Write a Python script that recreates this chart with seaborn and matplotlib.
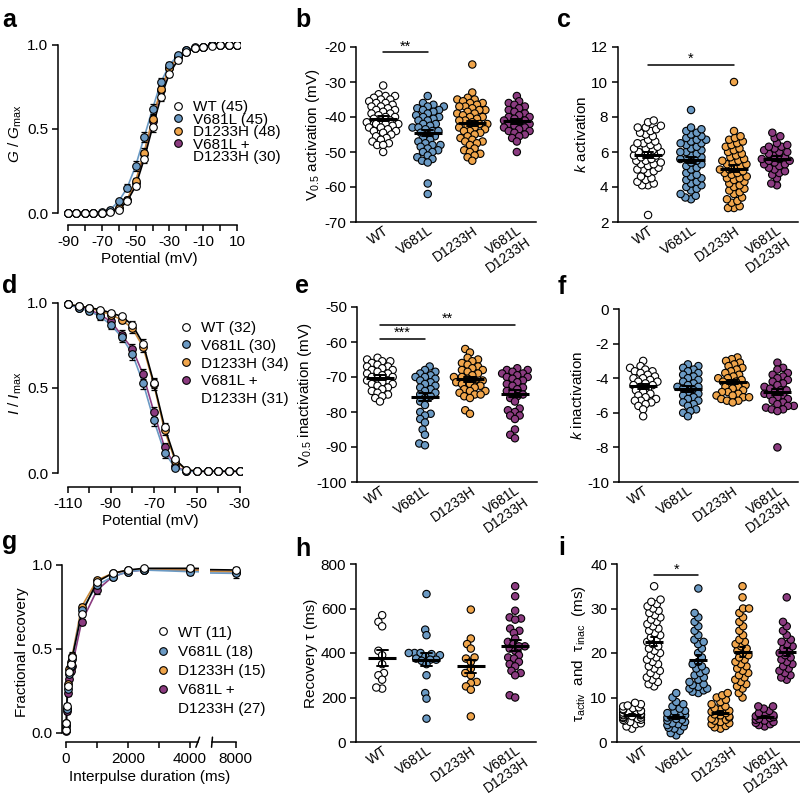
import numpy as np
import pandas as pd
import matplotlib
matplotlib.use('Agg')
import matplotlib.pyplot as plt
from matplotlib.lines import Line2D
import seaborn as sns

# ---- groups / colours ----
groups = ['WT', 'V681L', 'D1233H', 'V681L+D1233H']
tick_labels = ['WT', 'V681L', 'D1233H', 'V681L\nD1233H']
fill = {'WT': 'white', 'V681L': '#6b9ac4', 'D1233H': '#f0a54b', 'V681L+D1233H': '#8b3b80'}
fit_color = {'WT': 'black', 'V681L': '#6b9ac4', 'D1233H': '#c98a3a', 'V681L+D1233H': '#8b3b80'}

# ---- a: activation curves ----
act_voltage = list(range(-90, 15, 5))
act_gv = {
    'WT':           [0, 0, 0, 0, 0.002, 0.005, 0.02, 0.07, 0.16, 0.32, 0.51, 0.69, 0.83, 0.91, 0.96, 0.98, 0.99, 0.995, 1.0, 1.0, 1.0],
    'V681L':        [0, 0, 0, 0, 0.005, 0.02, 0.07, 0.15, 0.28, 0.45, 0.62, 0.78, 0.88, 0.94, 0.97, 0.985, 0.99, 1.0, 1.0, 1.0, 1.0],
    'D1233H':       [0, 0, 0, 0, 0.002, 0.01, 0.03, 0.08, 0.19, 0.36, 0.56, 0.74, 0.86, 0.93, 0.97, 0.98, 0.99, 1.0, 1.0, 1.0, 1.0],
    'V681L+D1233H': [0, 0, 0, 0, 0.002, 0.01, 0.03, 0.08, 0.18, 0.35, 0.55, 0.73, 0.86, 0.93, 0.96, 0.98, 0.99, 1.0, 1.0, 1.0, 1.0],
}
act_sem = {
    'WT':           [0, 0, 0, 0, 0, 0.003, 0.005, 0.01, 0.015, 0.02, 0.025, 0.025, 0.02, 0.015, 0.01, 0.005, 0, 0, 0, 0, 0],
    'V681L':        [0, 0, 0, 0, 0, 0.005, 0.01, 0.02, 0.03, 0.03, 0.03, 0.025, 0.02, 0.015, 0.01, 0.005, 0, 0, 0, 0, 0],
    'D1233H':       [0, 0, 0, 0, 0, 0.004, 0.008, 0.015, 0.02, 0.025, 0.025, 0.02, 0.02, 0.01, 0.01, 0.005, 0, 0, 0, 0, 0],
    'V681L+D1233H': [0, 0, 0, 0, 0, 0.004, 0.008, 0.015, 0.02, 0.025, 0.025, 0.02, 0.02, 0.01, 0.01, 0.005, 0, 0, 0, 0, 0],
}
act_n = {'WT': 45, 'V681L': 45, 'D1233H': 48, 'V681L+D1233H': 30}

# ---- d: steady-state inactivation ----
inact_voltage = list(range(-110, -25, 5))
inact_ii = {
    'WT':           [0.99, 0.98, 0.97, 0.96, 0.94, 0.92, 0.87, 0.76, 0.53, 0.27, 0.08, 0.02, 0.01, 0.01, 0.01, 0.01, 0.01],
    'V681L':        [0.99, 0.97, 0.95, 0.92, 0.87, 0.80, 0.70, 0.53, 0.31, 0.12, 0.03, 0.01, 0.01, 0.01, 0.01, 0.01, 0.01],
    'D1233H':       [0.99, 0.98, 0.97, 0.95, 0.93, 0.90, 0.85, 0.74, 0.52, 0.25, 0.07, 0.02, 0.01, 0.01, 0.01, 0.01, 0.01],
    'V681L+D1233H': [0.99, 0.97, 0.96, 0.93, 0.89, 0.81, 0.73, 0.58, 0.36, 0.15, 0.04, 0.01, 0.01, 0.01, 0.01, 0.01, 0.01],
}
inact_sem = {
    'WT':           [0.005, 0.01, 0.01, 0.01, 0.01, 0.015, 0.02, 0.025, 0.03, 0.025, 0.015, 0.005, 0, 0, 0, 0, 0],
    'V681L':        [0.005, 0.01, 0.015, 0.02, 0.025, 0.03, 0.035, 0.035, 0.035, 0.03, 0.015, 0.005, 0, 0, 0, 0, 0],
    'D1233H':       [0.005, 0.01, 0.01, 0.015, 0.02, 0.02, 0.025, 0.03, 0.03, 0.025, 0.015, 0.005, 0, 0, 0, 0, 0],
    'V681L+D1233H': [0.005, 0.01, 0.015, 0.02, 0.025, 0.03, 0.03, 0.03, 0.03, 0.025, 0.015, 0.005, 0, 0, 0, 0, 0],
}
inact_n = {'WT': 32, 'V681L': 30, 'D1233H': 34, 'V681L+D1233H': 31}

# ---- g: recovery from inactivation ----
interpulse = [2, 10, 25, 50, 100, 150, 200, 500, 1000, 1500, 2000, 2500, 4000, 8000]
recovery = {
    'WT':           [0.02, 0.06, 0.16, 0.28, 0.36, 0.41, 0.45, 0.71, 0.90, 0.95, 0.97, 0.98, 0.98, 0.97],
    'V681L':        [0.02, 0.05, 0.14, 0.26, 0.35, 0.40, 0.44, 0.73, 0.88, 0.93, 0.96, 0.97, 0.96, 0.95],
    'D1233H':       [0.02, 0.06, 0.15, 0.29, 0.38, 0.42, 0.46, 0.75, 0.91, 0.95, 0.97, 0.97, 0.97, 0.96],
    'V681L+D1233H': [0.01, 0.04, 0.13, 0.24, 0.32, 0.37, 0.40, 0.66, 0.85, 0.93, 0.96, 0.97, 0.97, 0.96],
}
recovery_sem = {
    'WT':           [0.01, 0.01, 0.02, 0.02, 0.02, 0.02, 0.02, 0.02, 0.01, 0.01, 0.01, 0.01, 0.02, 0.02],
    'V681L':        [0.01, 0.01, 0.02, 0.02, 0.02, 0.02, 0.03, 0.02, 0.02, 0.01, 0.01, 0.01, 0.02, 0.03],
    'D1233H':       [0.01, 0.01, 0.02, 0.02, 0.02, 0.02, 0.02, 0.02, 0.01, 0.01, 0.01, 0.01, 0.01, 0.02],
    'V681L+D1233H': [0.01, 0.01, 0.02, 0.02, 0.02, 0.02, 0.02, 0.02, 0.02, 0.01, 0.01, 0.01, 0.01, 0.02],
}
recovery_n = {'WT': 11, 'V681L': 18, 'D1233H': 15, 'V681L+D1233H': 27}

# ---- b: V0.5 activation ----
v_act = {
    'WT': [-31, -33.5, -34, -34, -34.5, -35, -35, -35.5, -36, -36, -36.5, -37, -37, -37.5, -38, -38, -38.5, -39, -39,
           -39.5, -40, -40, -40.5, -41, -41, -41.5, -42, -42, -42, -42.5, -43, -43, -43.5, -44, -44, -44.5, -45, -45.5,
           -46, -46.5, -47, -47.5, -48, -48, -50],
    'V681L': [-34, -36, -36.5, -37, -37, -37.5, -38, -38, -38.5, -39, -39.5, -40, -40, -40.5, -41, -41, -42, -42, -42.5,
              -43, -43, -43.5, -44, -44, -44.5, -45, -45.5, -46, -46.5, -47, -47.5, -48, -48, -48.5, -49, -49.5, -50,
              -50, -51, -51.5, -52, -52.5, -53, -59, -62],
    'D1233H': [-25, -33, -34.5, -35, -35, -35.5, -36, -36, -36.5, -37, -37, -37.5, -38, -38, -38.5, -39, -39, -39.5, -40,
               -40, -40.5, -41, -41, -41.5, -42, -42, -42.5, -43, -43, -43.5, -44, -44, -44.5, -45, -45.5, -46, -46.5,
               -47, -47, -47.5, -48, -49, -49.5, -50, -50.5, -51, -51.5, -52.5],
    'V681L+D1233H': [-34, -35.5, -36, -36.5, -37, -37.5, -38, -38.5, -39, -39.5, -40, -40, -40.5, -41, -41, -41.5, -42,
                     -42, -42.5, -43, -43, -43.5, -44, -44, -44.5, -45, -45.5, -46, -47, -50],
}

# ---- c: k activation ----
k_act = {
    'WT': [2.4, 4.1, 4.1, 4.2, 4.3, 4.4, 4.5, 4.6, 4.8, 4.9, 5.0, 5.0, 5.1, 5.2, 5.3, 5.3, 5.4, 5.5, 5.5, 5.6, 5.7, 5.8,
           5.8, 5.9, 6.0, 6.0, 6.1, 6.2, 6.2, 6.3, 6.4, 6.5, 6.5, 6.6, 6.7, 6.9, 7.0, 7.1, 7.2, 7.3, 7.4, 7.4, 7.5, 7.7, 7.8],
    'V681L': [3.3, 3.4, 3.5, 3.6, 3.8, 3.9, 4.0, 4.1, 4.2, 4.3, 4.4, 4.5, 4.6, 4.7, 4.8, 5.0, 5.1, 5.2, 5.3, 5.4, 5.5,
              5.6, 5.6, 5.7, 5.8, 5.9, 6.0, 6.0, 6.1, 6.2, 6.3, 6.4, 6.5, 6.5, 6.6, 6.7, 6.7, 6.8, 6.9, 7.0, 7.1, 7.2,
              7.3, 7.4, 8.4],
    'D1233H': [2.8, 2.8, 2.9, 3.1, 3.2, 3.3, 3.4, 3.6, 3.7, 3.8, 3.9, 4.0, 4.1, 4.2, 4.3, 4.4, 4.5, 4.5, 4.6, 4.7, 4.8,
               4.8, 4.9, 5.0, 5.0, 5.1, 5.2, 5.3, 5.3, 5.4, 5.5, 5.5, 5.6, 5.7, 5.8, 5.9, 6.0, 6.1, 6.2, 6.3, 6.4, 6.5,
               6.6, 6.7, 6.8, 6.9, 7.2, 10.0],
    'V681L+D1233H': [4.1, 4.2, 4.5, 4.7, 4.8, 4.9, 5.0, 5.1, 5.2, 5.3, 5.3, 5.4, 5.5, 5.5, 5.6, 5.6, 5.7, 5.8, 5.9, 6.0,
                     6.0, 6.1, 6.2, 6.3, 6.3, 6.4, 6.5, 6.8, 6.9, 7.1],
}

# ---- e: V0.5 inactivation ----
v_inact = {
    'WT': [-64.5, -65, -65.5, -65.5, -66, -66.5, -67, -67, -67.5, -68, -68, -68.5, -69, -69, -69.5, -70, -70, -70.5,
           -71, -71, -71.5, -72, -72, -72.5, -73, -73.5, -74, -74.5, -75, -75.5, -76, -77],
    'V681L': [-67, -68, -68.5, -69, -69.5, -70, -70, -70.5, -71, -71.5, -72, -72.5, -73, -73.5, -74, -74.5, -75, -75.5,
              -76, -77, -78, -80, -80.5, -81, -82, -83, -85, -86.5, -89, -89.5],
    'D1233H': [-62, -63, -64.5, -65, -65.5, -66, -66.5, -67, -67.5, -68, -68, -68.5, -69, -69.5, -70, -70, -70.5, -71,
               -71, -71.5, -72, -72, -72.5, -73, -73.5, -74, -74, -74.5, -75, -75, -75.5, -76, -79.5, -80.5],
    'V681L+D1233H': [-67.5, -68, -68, -68.5, -69, -69, -69.5, -70, -70, -70.5, -71, -71.5, -72, -72.5, -73, -73.5, -74,
                     -74.5, -75, -75.5, -76, -77, -79, -79.5, -80, -81, -81, -82, -85, -86.5, -87.5],
}

# ---- f: k inactivation ----
k_inact = {
    'WT': [-3.0, -3.3, -3.4, -3.5, -3.6, -3.6, -3.7, -3.8, -3.9, -4.0, -4.0, -4.1, -4.2, -4.2, -4.3, -4.4, -4.4, -4.5,
           -4.6, -4.7, -4.8, -4.9, -5.0, -5.1, -5.2, -5.3, -5.3, -5.4, -5.5, -5.6, -5.8, -6.2],
    'V681L': [-3.2, -3.3, -3.4, -3.5, -3.6, -3.7, -3.8, -3.9, -4.0, -4.1, -4.2, -4.3, -4.4, -4.5, -4.5, -4.6, -4.7,
              -4.8, -4.9, -5.0, -5.1, -5.2, -5.3, -5.4, -5.5, -5.6, -5.8, -5.9, -6.0, -6.2],
    'D1233H': [-2.8, -2.9, -3.0, -3.1, -3.2, -3.3, -3.4, -3.5, -3.6, -3.7, -3.8, -3.9, -4.0, -4.0, -4.1, -4.2, -4.2,
               -4.3, -4.4, -4.5, -4.5, -4.6, -4.7, -4.8, -4.8, -4.9, -5.0, -5.0, -5.1, -5.1, -5.2, -5.3, -5.3, -5.4],
    'V681L+D1233H': [-3.1, -3.4, -3.5, -3.7, -3.8, -3.9, -4.0, -4.1, -4.2, -4.3, -4.4, -4.5, -4.6, -4.7, -4.7, -4.8,
                     -4.9, -5.0, -5.0, -5.1, -5.2, -5.3, -5.4, -5.5, -5.6, -5.6, -5.7, -5.8, -5.8, -5.9, -8.0],
}

# ---- h: recovery tau ----
rec_tau = {
    'WT': [570, 540, 520, 410, 390, 350, 310, 300, 280, 240, 245],
    'V681L': [665, 505, 480, 400, 400, 395, 390, 385, 375, 370, 370, 365, 350, 300, 220, 195, 105, 400],
    'D1233H': [595, 465, 440, 420, 375, 360, 330, 310, 300, 270, 265, 250, 235, 115, 380],
    'V681L+D1233H': [700, 655, 590, 560, 555, 550, 510, 500, 490, 465, 450, 440, 430, 420, 410, 390, 380, 375, 360,
                     350, 340, 320, 310, 300, 210, 200, 430],
}

# ---- i: tau activation / tau inactivation ----
tau_activ = {
    'WT': [3.0, 3.5, 4.0, 4.2, 4.5, 4.8, 5.0, 5.0, 5.2, 5.4, 5.5, 5.6, 5.8, 6.0, 6.0, 6.1, 6.2, 6.3, 6.5, 6.6, 6.8, 7.0,
           7.0, 7.2, 7.4, 7.6, 7.8, 8.0, 8.2, 8.5, 8.8],
    'V681L': [1.5, 2.0, 2.5, 3.0, 3.2, 3.5, 3.8, 4.0, 4.2, 4.5, 4.8, 5.0, 5.2, 5.5, 5.8, 6.0, 6.2, 6.5, 6.8, 7.0, 7.5,
              8.0, 8.5, 9.0, 10.0, 11.0],
    'D1233H': [3.0, 3.3, 3.6, 4.0, 4.2, 4.5, 4.8, 5.0, 5.2, 5.5, 5.7, 6.0, 6.2, 6.5, 6.8, 7.0, 7.3, 7.6, 8.0, 8.5, 9.0,
               9.5, 10.0, 10.5, 11.0],
    'V681L+D1233H': [3.5, 3.8, 4.0, 4.3, 4.5, 4.8, 5.0, 5.2, 5.4, 5.6, 5.8, 6.0, 6.2, 6.5, 7.0, 7.5, 8.0, 8.0],
}
tau_inac = {
    'WT': [12.5, 13, 13.5, 14, 14.5, 15, 15.5, 16, 16.5, 17, 17.5, 18, 18.5, 19, 19.5, 20, 20.5, 21, 21.5, 22, 22.5,
           23, 23.5, 24, 24.5, 25, 25.5, 26, 26.5, 27, 27.5, 28, 28.5, 29, 29.5, 30, 30.5, 31, 31.5, 32, 35],
    'V681L': [11, 11.3, 11.6, 12, 12, 12.4, 12.8, 13, 13.5, 14, 14.5, 15, 15.5, 16, 16.5, 17, 17.5, 18, 19, 20, 21, 22,
              22.5, 23, 24, 25, 26, 27, 28, 29, 34.5],
    'D1233H': [10, 11, 12, 12.5, 13, 13.5, 14, 14.5, 15, 15.5, 16, 16.5, 17, 17.5, 18, 18.5, 19, 19.5, 20, 20.5, 21,
               21.5, 22, 22.5, 23, 24, 25, 26, 27, 28, 29, 30, 30, 32.5, 35],
    'V681L+D1233H': [14, 14.5, 15, 15.5, 16, 16.5, 17, 17.5, 18, 18.5, 19, 19.5, 20, 20.5, 21, 21.5, 22, 22.5, 23, 24,
                     25, 26, 27, 32.5],
}

# ---- style ----
sns.set_theme(style='ticks')
plt.rcParams.update({
    'font.family': ['Liberation Sans', 'DejaVu Sans'],
    'mathtext.fontset': 'custom',
    'mathtext.rm': 'Liberation Sans',
    'mathtext.it': 'Liberation Sans:italic',
    'axes.unicode_minus': False,
    'axes.linewidth': 1.1,
    'axes.edgecolor': 'black',
    'axes.labelcolor': 'black',
    'text.color': 'black',
    'xtick.color': 'black',
    'ytick.color': 'black',
    'xtick.major.width': 1.1,
    'ytick.major.width': 1.1,
    'xtick.minor.width': 1.1,
    'xtick.major.size': 4,
    'ytick.major.size': 4,
    'xtick.minor.size': 4,
    'xtick.major.pad': 3,
    'ytick.major.pad': 3,
    'xtick.labelsize': 11,
    'ytick.labelsize': 11,
    'axes.labelsize': 11,
    'axes.labelpad': 2,
})

fig = plt.figure(figsize=(8, 7.94), dpi=100)
swarm_layers = []  # swarms are laid out with a small marker, drawn with a bigger one


def add_ax(left, top, right, bottom):
    # pixel box -> figure fraction
    return fig.add_axes([left / 800, 1 - bottom / 794, (right - left) / 800, (bottom - top) / 794])


def curve_panel(ax, x, series, sems):
    order = list(reversed(groups))
    for g in order:
        sns.lineplot(x=x, y=series[g], color=fit_color[g], lw=1.2, ax=ax, zorder=2)
    for g in order:
        ax.errorbar(x, series[g], yerr=sems[g], fmt='none', ecolor='black', elinewidth=0.9,
                    capsize=2.5, capthick=0.9, zorder=3)
        sns.scatterplot(x=x, y=series[g], color=fill[g], edgecolor='black', linewidth=0.8,
                        s=30, ax=ax, zorder=4, legend=False)
    ax.set_yticks([0, 0.5, 1.0], ['0.0', '0.5', '1.0'])
    ax.spines['left'].set_bounds(0, 1)
    sns.despine(ax=ax)


def curve_legend(ax, n, anchor, spacing):
    handles = [Line2D([], [], marker='o', linestyle='none', markerfacecolor=fill[g], markeredgecolor='black',
                      markersize=5.5, markeredgewidth=0.8) for g in groups]
    handles.append(Line2D([], [], linestyle='none'))
    labels = [f'WT ({n["WT"]})', f'V681L ({n["V681L"]})', f'D1233H ({n["D1233H"]})', 'V681L +',
              f'D1233H ({n["V681L+D1233H"]})']
    ax.legend(handles, labels, loc='upper left', bbox_to_anchor=anchor, frameon=False, fontsize=11,
              handlelength=0.8, handletextpad=0.6, labelspacing=spacing, borderpad=0, borderaxespad=0)


def scatter_panel(ax, data, cats, palette, xticks, ylabel, ylim, yticks, xlim, mean_size):
    df = pd.DataFrame([(c, v) for c in cats for v in data[c]], columns=['group', 'value'])
    n0 = len(ax.collections)
    sns.swarmplot(data=df, x='group', y='value', hue='group', order=cats, hue_order=cats, palette=palette,
                  size=3.3, edgecolor='black', linewidth=0.8, legend=False, ax=ax, warn_thresh=1)
    swarm_layers.extend(ax.collections[n0:])
    n_lines = len(ax.lines)
    sns.pointplot(data=df, x='group', y='value', order=cats, errorbar='se', color='black', linestyle='none',
                  marker='_', markersize=mean_size, markeredgewidth=2.2, capsize=0.25,
                  err_kws={'linewidth': 1.4}, ax=ax)
    for ln in ax.lines[n_lines:]:
        ln.set_zorder(5)
    ax.set_xlim(*xlim)
    ax.set_ylim(*ylim)
    ax.set_yticks(yticks)
    ax.set_xticks(xticks, tick_labels, rotation=35, ha='right', rotation_mode='anchor',
                  fontsize=10, linespacing=1.0)
    ax.tick_params(axis='x', length=0, pad=1)
    ax.set_xlabel('')
    ax.set_ylabel(ylabel)
    sns.despine(ax=ax)


def sig(ax, x1, x2, y, text):
    ax.plot([x1, x2], [y, y], color='black', lw=1.1)
    ax.annotate(text, xy=((x1 + x2) / 2, y), xytext=(0, -1), textcoords='offset points',
                ha='center', va='bottom', fontsize=10.5)


# ---- a ----
ax_a = add_ax(57.9, 41.6, 240.4, 225.1)
curve_panel(ax_a, act_voltage, act_gv, act_sem)
ax_a.set_xlim(-96, 12)
ax_a.set_ylim(-0.072, 1.02)
ax_a.set_xticks([-90, -70, -50, -30, -10, 10])
ax_a.set_xticks(range(-80, 10, 20), minor=True)
ax_a.spines['bottom'].set_bounds(-90, 10)
ax_a.set_xlabel('Potential (mV)')
ax_a.set_ylabel(r'$G\ /\ G_{\rm max}$')
curve_legend(ax_a, act_n, (0.625, 0.68), -0.1)

# ---- d ----
ax_d = add_ax(57.9, 299.3, 242, 487)
curve_panel(ax_d, inact_voltage, inact_ii, inact_sem)
ax_d.set_xlim(-114.6, -29)
ax_d.set_ylim(-0.082, 1.02)
ax_d.set_xticks([-110, -90, -70, -50, -30])
ax_d.set_xticks([-100, -80, -60, -40], minor=True)
ax_d.spines['bottom'].set_bounds(-110, -30)
ax_d.set_xlabel('Potential (mV)')
ax_d.set_ylabel(r'$I\ /\ I_{\rm max}$')
curve_legend(ax_d, inact_n, (0.66, 0.885), 0.25)

# ---- g (broken x axis) ----
ax_g = add_ax(62.3, 561.6, 199.3, 742.2)
ax_g2 = add_ax(210, 561.6, 240, 742.2)
ax_g2.patch.set_visible(False)
for axg in (ax_g, ax_g2):
    curve_panel(axg, interpulse, recovery, recovery_sem)
    axg.set_ylim(-0.055, 1.02)
ax_g.set_xlim(-120, 4300)
ax_g.set_xticks([0, 2000, 4000])
ax_g.set_xticks([1000, 3000], minor=True)
ax_g.spines['bottom'].set_bounds(0, 4250)
ax_g2.set_xlim(7150, 8150)
ax_g2.set_xticks([8000])
ax_g2.spines['bottom'].set_bounds(7217, 8000)
ax_g2.spines['left'].set_visible(False)
ax_g2.tick_params(axis='y', left=False, labelleft=False)
for axg, xb in ((ax_g, 4250), (ax_g2, 7217)):
    dx = 60 if axg is ax_g else 15
    axg.plot([xb - dx, xb + dx], [-0.085, -0.025], color='black', lw=1.1, clip_on=False,
             transform=axg.transData)
ax_g.set_xlabel('Interpulse duration (ms)')
ax_g.xaxis.set_label_coords(0.64, -0.155)
ax_g.set_ylabel('Fractional recovery')
curve_legend(ax_g, recovery_n, (0.69, 0.645), 0.34)

# ---- b, c, e, f, h ----
cat_ticks = [0, 1, 2, 3]
ax_b = add_ax(356, 47, 536, 222)
scatter_panel(ax_b, v_act, groups, fill, cat_ticks, r'V$_{0.5}$ activation (mV)', (-70, -20),
              range(-70, -19, 10), (-0.61, 3.43), 20)
sig(ax_b, 0, 1, -21.5, '**')

ax_c = add_ax(618, 47, 798, 222)
scatter_panel(ax_c, k_act, groups, fill, cat_ticks, r'$k$ activation', (2, 12), range(2, 13, 2),
              (-0.7, 3.49), 20)
sig(ax_c, 0, 2, 11, '*')

ax_e = add_ax(357, 307, 537, 482)
scatter_panel(ax_e, v_inact, groups, fill, cat_ticks, r'V$_{0.5}$ inactivation (mV)', (-100, -50),
              range(-100, -49, 10), (-0.51, 3.49), 20)
sig(ax_e, 0, 1, -59, '***')
sig(ax_e, 0, 3, -55, '**')

ax_f = add_ax(619, 309, 798, 482)
scatter_panel(ax_f, k_inact, groups, fill, cat_ticks, r'$k$ inactivation', (-10, 0), range(-10, 1, 2),
              (-0.54, 3.46), 20)

ax_h = add_ax(356, 564, 536, 742)
scatter_panel(ax_h, rec_tau, groups, fill, cat_ticks, 'Recovery τ (ms)', (0, 800), range(0, 801, 200),
              (-0.59, 3.47), 20)

# ---- i ----
tau_cats = []
tau_data = {}
tau_palette = {}
for g in groups:
    for kind, src in (('activ', tau_activ), ('inac', tau_inac)):
        key = f'{g} {kind}'
        tau_cats.append(key)
        tau_data[key] = src[g]
        tau_palette[key] = fill[g]
ax_i = add_ax(617, 564, 800, 742)
scatter_panel(ax_i, tau_data, tau_cats, tau_palette, [0.5, 2.5, 4.5, 6.5],
              r'τ$_{\rm activ}$  and  τ$_{\rm inac}$  (ms)', (0, 40), range(0, 41, 10), (-0.68, 7.6), 13)
sig(ax_i, 1, 3, 37.5, '*')

# ---- panel letters ----
letters = [('a', 2, 27), ('b', 295, 27), ('c', 557, 27),
           ('d', 2, 293), ('e', 295, 293), ('f', 558, 294),
           ('g', 2, 549), ('h', 295, 556), ('i', 558, 555)]
for letter, x, y in letters:
    fig.text(x / 800, 1 - y / 794, letter, fontsize=18, fontweight='bold', va='baseline', ha='left')

# lay the swarms out once, then freeze them and draw the markers at full size
fig.canvas.draw()
for coll in swarm_layers:
    if 'draw' in coll.__dict__:
        del coll.draw
    coll.set_sizes([5.3 ** 2])

fig.savefig('out.png', dpi=100)
